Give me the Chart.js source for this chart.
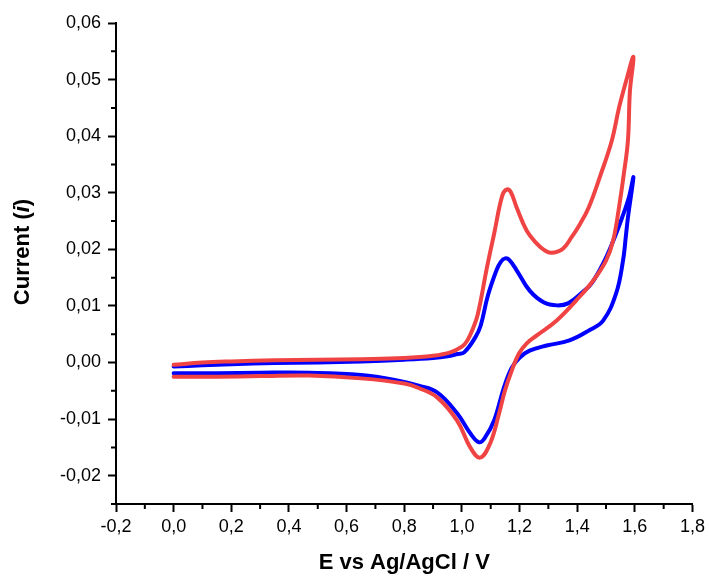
<!DOCTYPE html>
<html>
<head>
<meta charset="utf-8">
<script src="https://cdn.jsdelivr.net/npm/chart.js@4.4.1/dist/chart.umd.min.js"></script>
<style>
  html, body { margin: 0; padding: 0; background: #fff; }
  #wrap { width: 709px; height: 580px; }
</style>
</head>
<body>
<div id="wrap"><canvas id="grafica" width="709" height="580"></canvas></div>
<script>
// Potencial (V) y corriente, recorrido completo: ida 0 -> 1.6, vuelta 1.6 -> 0
const blueE = [0.0, 0.1, 0.2, 0.35, 0.5, 0.65, 0.8, 0.9, 0.95, 0.985, 1.008, 1.046, 1.065, 1.09, 1.12, 1.135, 1.15, 1.165, 1.19, 1.235, 1.285, 1.33, 1.37, 1.42, 1.45, 1.49, 1.525, 1.555, 1.58, 1.595,
               1.576, 1.569, 1.559, 1.535, 1.49, 1.442, 1.373, 1.294, 1.235, 1.201, 1.173, 1.146, 1.112, 1.081, 1.06, 1.029, 0.984, 0.915, 0.85, 0.78, 0.65, 0.47, 0.3, 0.15, 0.0];
const blueI = [-0.0007, -0.0005, -0.0003, -0.0001, 0.0, 0.0002, 0.0005, 0.0008, 0.0011, 0.0015, 0.0018, 0.0044, 0.0065, 0.0118, 0.0163, 0.0178, 0.0184, 0.0181, 0.0163, 0.0127, 0.0106, 0.0101, 0.0105, 0.0125, 0.014, 0.0175, 0.0215, 0.0255, 0.0293, 0.0327,
               0.0256, 0.0224, 0.018, 0.0122, 0.0074, 0.0057, 0.0039, 0.003, 0.0021, 0.0009, -0.0009, -0.0044, -0.0102, -0.0132, -0.0141, -0.0125, -0.009, -0.0053, -0.0041, -0.0032, -0.0022, -0.0018, -0.0018, -0.0019, -0.0019];

const redE = [0.0, 0.1, 0.2, 0.35, 0.5, 0.65, 0.8, 0.9, 0.96, 1.0, 1.019, 1.036, 1.055, 1.087, 1.112, 1.14, 1.156, 1.17, 1.19, 1.225, 1.26, 1.285, 1.31, 1.35, 1.38, 1.41, 1.44, 1.48, 1.52, 1.545, 1.57, 1.595,
              1.583, 1.576, 1.562, 1.545, 1.525, 1.5, 1.456, 1.397, 1.328, 1.26, 1.225, 1.198, 1.173, 1.149, 1.129, 1.098, 1.063, 1.029, 0.984, 0.915, 0.85, 0.8, 0.65, 0.47, 0.3, 0.15, 0.0];
const redI = [-0.0004, 0.0, 0.0002, 0.0004, 0.0005, 0.0006, 0.0008, 0.0012, 0.0018, 0.0028, 0.0039, 0.0057, 0.0085, 0.0168, 0.0228, 0.0295, 0.0306, 0.0301, 0.0274, 0.0233, 0.021, 0.0199, 0.0194, 0.0201, 0.0221, 0.0245, 0.0274, 0.033, 0.0392, 0.045, 0.0498, 0.054,
              0.048, 0.0392, 0.0334, 0.0274, 0.0216, 0.018, 0.0145, 0.011, 0.0074, 0.0048, 0.0034, 0.0016, -0.0014, -0.005, -0.009, -0.0143, -0.0168, -0.015, -0.0103, -0.0062, -0.0045, -0.0037, -0.0028, -0.0023, -0.0024, -0.0025, -0.0025];

const xTicks = [-0.2, 0.0, 0.2, 0.4, 0.6, 0.8, 1.0, 1.2, 1.4, 1.6, 1.8];
const yTicks = [-0.02, -0.01, 0.0, 0.01, 0.02, 0.03, 0.04, 0.05, 0.06];

const toPoints = (xs, ys) => xs.map((x, i) => ({ x: x, y: ys[i] }));
const coma = (v, d) => v.toFixed(d).replace('.', ',').replace(/^-0,0+$/, '0,00');

// ticks menores y títulos de los ejes
const extras = {
  id: 'extrasEjes',
  afterDraw(chart) {
    const ctx = chart.ctx;
    const xs = chart.scales.x, ys = chart.scales.y;
    const area = chart.chartArea;
    ctx.save();
    ctx.strokeStyle = '#000';
    ctx.lineWidth = 2;
    ctx.beginPath();
    for (let i = 0; i < xTicks.length - 1; i++) {
      const px = xs.getPixelForValue((xTicks[i] + xTicks[i + 1]) / 2);
      ctx.moveTo(px, area.bottom);
      ctx.lineTo(px, area.bottom + 5);
    }
    const yMinors = [yTicks[0] - 0.005].concat(yTicks.slice(0, -1).map((v, i) => (v + yTicks[i + 1]) / 2));
    yMinors.forEach(v => {
      const py = ys.getPixelForValue(v);
      ctx.moveTo(area.left, py);
      ctx.lineTo(area.left - 5, py);
    });
    ctx.stroke();

    ctx.fillStyle = '#000';
    ctx.textBaseline = 'middle';
    ctx.textAlign = 'center';
    ctx.font = 'bold 22px "Liberation Sans", Arial, sans-serif';
    ctx.fillText('E vs Ag/AgCl / V', (area.left + area.right) / 2, 563);

    // "Current (i)" con la i en cursiva
    ctx.translate(23, 252);
    ctx.rotate(-Math.PI / 2);
    const partes = [
      ['Current (', 'bold 22px "Liberation Sans", Arial, sans-serif'],
      ['i', 'italic bold 22px "Liberation Sans", Arial, sans-serif'],
      [')', 'bold 22px "Liberation Sans", Arial, sans-serif']
    ];
    let total = 0;
    partes.forEach(p => { ctx.font = p[1]; total += ctx.measureText(p[0]).width; });
    let cx = -total / 2;
    ctx.textAlign = 'left';
    partes.forEach(p => {
      ctx.font = p[1];
      ctx.fillText(p[0], cx, 0);
      cx += ctx.measureText(p[0]).width;
    });
    ctx.restore();
  }
};

new Chart(document.getElementById('grafica'), {
  type: 'scatter',
  data: {
    datasets: [
      {
        label: 'azul',
        data: toPoints(blueE, blueI),
        showLine: true,
        borderColor: '#0000ff',
        borderWidth: 4,
        pointRadius: 0,
        tension: 0.4,
        borderJoinStyle: 'round',
        borderCapStyle: 'round',
        order: 1
      },
      {
        label: 'rojo',
        data: toPoints(redE, redI),
        showLine: true,
        borderColor: '#f04444',
        borderWidth: 4,
        pointRadius: 0,
        tension: 0.4,
        borderJoinStyle: 'round',
        borderCapStyle: 'round',
        order: 0
      }
    ]
  },
  options: {
    responsive: false,
    animation: false,
    layout: { padding: { top: 23, right: 12, left: 0, bottom: 0 } },
    plugins: { legend: { display: false }, tooltip: { enabled: false } },
    scales: {
      x: {
        type: 'linear',
        min: -0.2,
        max: 1.8,
        afterBuildTicks: s => { s.ticks = xTicks.map(v => ({ value: v })); },
        afterFit: s => { s.height = 76; },
        ticks: {
          color: '#000',
          padding: 4,
          maxRotation: 0,
          font: { size: 18, family: '"Liberation Sans", Arial, sans-serif' },
          callback: v => coma(v, 1)
        },
        grid: { drawOnChartArea: false, drawTicks: true, tickLength: 8, tickColor: '#000', tickWidth: 2 },
        border: { display: true, color: '#000', width: 2 }
      },
      y: {
        type: 'linear',
        min: -0.025,
        max: 0.06,
        afterBuildTicks: s => { s.ticks = yTicks.map(v => ({ value: v })); },
        afterFit: s => { s.width = 116; },
        ticks: {
          color: '#000',
          padding: 7,
          font: { size: 18, family: '"Liberation Sans", Arial, sans-serif' },
          callback: v => coma(v, 2)
        },
        grid: { drawOnChartArea: false, drawTicks: true, tickLength: 8, tickColor: '#000', tickWidth: 2 },
        border: { display: true, color: '#000', width: 2 }
      }
    }
  },
  plugins: [extras]
});
</script>
</body>
</html>
